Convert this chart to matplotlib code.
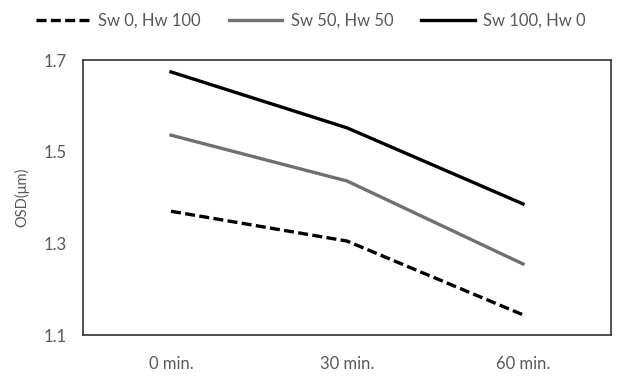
import matplotlib
matplotlib.use("Agg")
import matplotlib.pyplot as plt

categories = ["0 min.", "30 min.", "60 min."]
sw0_hw100 = [1.370, 1.305, 1.144]
sw50_hw50 = [1.536, 1.436, 1.255]
sw100_hw0 = [1.674, 1.552, 1.386]
yticks = [1.1, 1.3, 1.5, 1.7]

plt.rcParams['font.family'] = ['Lato', 'DejaVu Sans']
txt = '#595959'

fig = plt.figure(figsize=(6.27, 3.81), dpi=100)
ax = fig.add_axes([0.1324, 0.1207, 0.8421, 0.7218])
x = range(len(categories))
l1, = ax.plot(x, sw0_hw100, color='black', lw=2.4, ls=(0, (3.0, 1.3)), label='Sw 0, Hw 100')
l2, = ax.plot(x, sw50_hw50, color='#707070', lw=2.4, label='Sw 50, Hw 50')
l3, = ax.plot(x, sw100_hw0, color='black', lw=2.4, label='Sw 100, Hw 0')

ax.set_xlim(-0.5, 2.5)
ax.set_ylim(1.1, 1.7)
ax.set_yticks(yticks)
ax.set_yticklabels([f"{v:.1f}" for v in yticks])
ax.set_xticks(list(x))
ax.set_xticklabels(categories)
ax.tick_params(length=0, labelsize=12, colors=txt)
ax.tick_params(axis='x', pad=15)
ax.tick_params(axis='y', pad=12)
for s in ax.spines.values():
    s.set_color('#333333')
    s.set_linewidth(1.2)
ax.set_ylabel('OSD(μm)', fontsize=10.5, color=txt, labelpad=10)

fig.legend(handles=[l1, l2, l3], loc='center', bbox_to_anchor=(0.496, 0.945), ncol=3,
           frameon=False, fontsize=12, labelcolor=txt, handlelength=3.2,
           handletextpad=0.5, columnspacing=1.7)

fig.savefig('out.png', dpi=100)
